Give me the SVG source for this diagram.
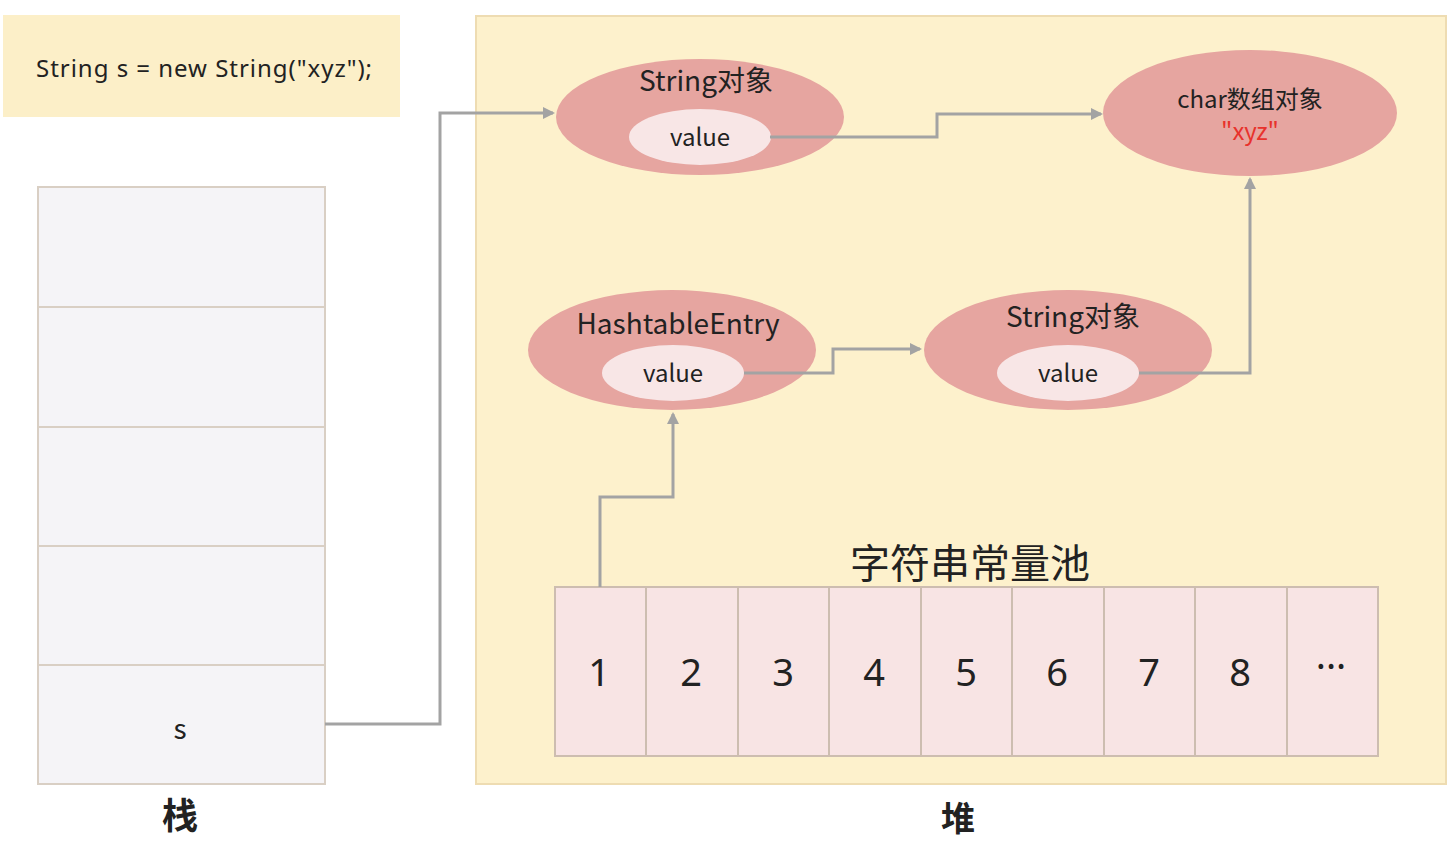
<svg xmlns="http://www.w3.org/2000/svg" width="1454" height="842" viewBox="0 0 1454 842">
<style>
.t{font-family:"Noto Sans CJK SC","Noto Sans",sans-serif;fill:#222;text-anchor:middle}
.cell{fill:#f5f4f7;stroke:#d9cfc4;stroke-width:2}
.pc{fill:#f8e4e4;stroke:#cdbdb0;stroke-width:2}
.outer{fill:#e6a5a0}
.inner{fill:#f8e6e6}
.num{font-family:"Noto Sans",sans-serif;font-size:38px;fill:#222;text-anchor:middle}
.conn{fill:none;stroke:#a3a3a3;stroke-width:3}
</style>
<defs>
<marker id="ah" markerWidth="12" markerHeight="12" refX="10" refY="6" orient="auto" markerUnits="userSpaceOnUse" viewBox="0 0 12 12">
<path d="M0,0 L12,6 L0,12 z" fill="#a3a3a3"/>
</marker>
</defs>
<rect width="1454" height="842" fill="#ffffff"/>
<g id="code">
<rect x="3" y="15" width="397" height="102" fill="#fcefc8"/>
<text x="36" y="77" font-family="Noto Sans, sans-serif" font-size="24" fill="#222" textLength="336">String s = new String("xyz");</text>
</g>
<g id="stack">
<rect class="cell" x="38" y="187" width="287" height="120"/>
<rect class="cell" x="38" y="307" width="287" height="120"/>
<rect class="cell" x="38" y="427" width="287" height="119"/>
<rect class="cell" x="38" y="546" width="287" height="119"/>
<rect class="cell" x="38" y="665" width="287" height="119"/>
<text class="t" x="180" y="739" font-size="28">s</text>
<text class="t" x="180" y="829" font-size="36" font-weight="bold">栈</text>
</g>
<g id="heap">
<rect x="476" y="16" width="970" height="768" fill="#fdf1cc" stroke="#eedcb2" stroke-width="2"/>
<text class="t" x="958" y="831" font-size="34" font-weight="bold">堆</text>
</g>
<g id="string-obj-top">
<ellipse class="outer" cx="700" cy="117" rx="144" ry="58"/>
<text class="t" x="706" y="91" font-size="28">String对象</text>
<ellipse class="inner" cx="700" cy="137" rx="71" ry="28"/>
<text class="t" x="700" y="146" font-size="24">value</text>
</g>
<g id="char-array">
<ellipse class="outer" cx="1250" cy="113" rx="147" ry="63"/>
<text class="t" x="1250" y="108" font-size="24">char数组对象</text>
<text class="t" x="1250" y="140" font-size="24" style="fill:#e8322c">"xyz"</text>
</g>
<g id="hashtable-entry">
<ellipse class="outer" cx="672" cy="350" rx="144" ry="60"/>
<text class="t" x="678" y="334" font-size="28">HashtableEntry</text>
<ellipse class="inner" cx="673" cy="373" rx="71" ry="28"/>
<text class="t" x="673" y="382" font-size="24">value</text>
</g>
<g id="string-obj-mid">
<ellipse class="outer" cx="1068" cy="350" rx="144" ry="60"/>
<text class="t" x="1073" y="327" font-size="28">String对象</text>
<ellipse class="inner" cx="1068" cy="373" rx="71" ry="28"/>
<text class="t" x="1068" y="382" font-size="24">value</text>
</g>
<g id="string-pool">
<text class="t" x="970" y="578" font-size="40">字符串常量池</text>
<rect class="pc" x="555" y="587" width="91" height="169"/>
<rect class="pc" x="646" y="587" width="92" height="169"/>
<rect class="pc" x="738" y="587" width="91" height="169"/>
<rect class="pc" x="829" y="587" width="92" height="169"/>
<rect class="pc" x="921" y="587" width="91" height="169"/>
<rect class="pc" x="1012" y="587" width="92" height="169"/>
<rect class="pc" x="1104" y="587" width="91" height="169"/>
<rect class="pc" x="1195" y="587" width="92" height="169"/>
<rect class="pc" x="1287" y="587" width="91" height="169"/>
<text class="num" x="599" y="686">1</text>
<text class="num" x="691" y="686">2</text>
<text class="num" x="783" y="686">3</text>
<text class="num" x="874" y="686">4</text>
<text class="num" x="966" y="686">5</text>
<text class="num" x="1057" y="686">6</text>
<text class="num" x="1149" y="686">7</text>
<text class="num" x="1240" y="686">8</text>
<text class="num" x="1331" y="680" font-size="24">···</text>
</g>
<g id="connectors">
<path class="conn" d="M325,724 H440 V113 H553" marker-end="url(#ah)"/>
<path class="conn" d="M770,137 H937 V114 H1101" marker-end="url(#ah)"/>
<path class="conn" d="M600,587 V497 H673 V414" marker-end="url(#ah)"/>
<path class="conn" d="M744,373 H833 V349 H920" marker-end="url(#ah)"/>
<path class="conn" d="M1139,373 H1250 V179" marker-end="url(#ah)"/>
</g>
</svg>
